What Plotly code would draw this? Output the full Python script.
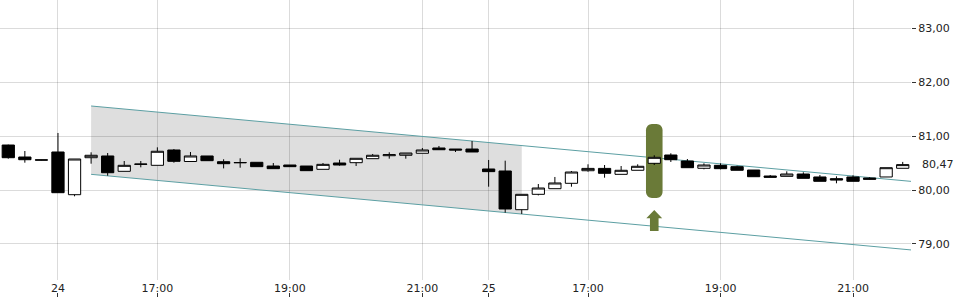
import plotly.graph_objects as go

# ---------------- data (15-minute candles) ----------------
opens = [80.833, 80.611, 80.558, 80.704, 79.913, 80.598, 80.630, 80.346, 80.474, 80.457,
         80.741, 80.528, 80.630, 80.524, 80.503, 80.513, 80.444, 80.463, 80.444, 80.383,
         80.500, 80.506, 80.580, 80.635, 80.643, 80.680, 80.778, 80.759, 80.759, 80.389,
         80.352, 79.635, 79.920, 80.024, 80.124, 80.357, 80.400, 80.290, 80.365, 80.494,
         80.648, 80.537, 80.402, 80.457, 80.432, 80.370, 80.259, 80.253, 80.296, 80.241,
         80.210, 80.241, 80.222, 80.241, 80.402]
highs = [80.840, 80.722, 80.560, 81.056, 80.574, 80.698, 80.685, 80.537, 80.537, 80.790,
         80.759, 80.704, 80.630, 80.569, 80.587, 80.513, 80.500, 80.463, 80.444, 80.500,
         80.561, 80.587, 80.667, 80.698, 80.685, 80.778, 80.815, 80.759, 80.907, 80.556,
         80.543, 79.920, 80.111, 80.241, 80.352, 80.476, 80.463, 80.444, 80.476, 80.643,
         80.680, 80.574, 80.494, 80.494, 80.450, 80.370, 80.278, 80.346, 80.328, 80.278,
         80.253, 80.272, 80.235, 80.413, 80.520]
lows = [80.580, 80.506, 80.550, 79.950, 79.883, 80.487, 80.265, 80.346, 80.420, 80.457,
        80.506, 80.528, 80.543, 80.400, 80.413, 80.432, 80.395, 80.432, 80.358, 80.383,
        80.450, 80.444, 80.580, 80.580, 80.580, 80.680, 80.746, 80.704, 80.704, 80.061,
        79.580, 79.556, 79.900, 80.024, 80.061, 80.339, 80.228, 80.290, 80.365, 80.463,
        80.519, 80.413, 80.383, 80.383, 80.365, 80.246, 80.235, 80.253, 80.216, 80.161,
        80.124, 80.161, 80.190, 80.241, 80.402]
closes = [80.598, 80.561, 80.554, 79.950, 80.574, 80.643, 80.320, 80.457, 80.480, 80.717,
          80.531, 80.630, 80.543, 80.487, 80.509, 80.432, 80.395, 80.432, 80.358, 80.475,
          80.463, 80.587, 80.643, 80.654, 80.685, 80.741, 80.746, 80.741, 80.704, 80.340,
          79.648, 79.920, 80.037, 80.130, 80.333, 80.400, 80.309, 80.365, 80.439, 80.605,
          80.561, 80.413, 80.463, 80.395, 80.365, 80.246, 80.235, 80.296, 80.216, 80.161,
          80.185, 80.161, 80.198, 80.413, 80.470]
candle_index = list(range(len(opens)))

tick_positions = [3, 9, 17, 25, 29, 35, 43, 51]
tick_labels = ["24", "17:00", "19:00", "21:00", "25", "17:00", "19:00", "21:00"]

# trend channel
channel_x = [5, 54.5]
channel_upper = [81.556, 80.160]
channel_lower = [80.290, 78.890]
shade_end_x = 31

# signal marker
signal_x = 39
signal_top = 81.222
signal_bottom = 79.852
arrow_tip = 79.630
arrow_neck = 79.476
arrow_base = 79.240

# ---------------- styles ----------------
TEAL = "#5c9fa3"
OLIVE = "#6a7a38"
GRID = "rgba(0,0,0,0.14)"
FONT = dict(family="DejaVu Sans", size=11, color="#222222")


def on_line(xs, ys, x):
    t = (x - xs[0]) / (xs[1] - xs[0])
    return ys[0] + t * (ys[1] - ys[0])


fig = go.Figure()

fig.add_trace(go.Candlestick(
    x=candle_index, open=opens, high=highs, low=lows, close=closes,
    increasing=dict(fillcolor="white", line=dict(color="black", width=1)),
    decreasing=dict(fillcolor="black", line=dict(color="black", width=1)),
    whiskerwidth=0, showlegend=False, hoverinfo="skip",
))
# helper trace so the tick-only axis is drawn
fig.add_trace(go.Scatter(x=[None], y=[None], xaxis="x2", yaxis="y",
                         showlegend=False, hoverinfo="skip"))

shapes = []
# shaded part of the channel
x0, x1 = channel_x[0], shade_end_x
shapes.append(dict(
    type="path", xref="x", yref="y", layer="below",
    path=(f"M {x0},{on_line(channel_x, channel_upper, x0)} "
          f"L {x1},{on_line(channel_x, channel_upper, x1)} "
          f"L {x1},{on_line(channel_x, channel_lower, x1)} "
          f"L {x0},{on_line(channel_x, channel_lower, x0)} Z"),
    fillcolor="#dedede", line=dict(width=0),
))
for ys in (channel_upper, channel_lower):
    shapes.append(dict(type="line", xref="x", yref="y", layer="between",
                       x0=channel_x[0], y0=ys[0], x1=channel_x[1], y1=ys[1],
                       line=dict(color=TEAL, width=1)))

# rounded pill behind the signal candle
px0, px1 = signal_x - 0.5, signal_x + 0.5
rx, ry = 0.36, 0.115
k = 0.5523
py0, py1 = signal_bottom, signal_top
pill = (f"M {px0},{py1 - ry} "
        f"C {px0},{py1 - ry + k * ry} {px0 + rx - k * rx},{py1} {px0 + rx},{py1} "
        f"L {px1 - rx},{py1} "
        f"C {px1 - rx + k * rx},{py1} {px1},{py1 - ry + k * ry} {px1},{py1 - ry} "
        f"L {px1},{py0 + ry} "
        f"C {px1},{py0 + ry - k * ry} {px1 - rx + k * rx},{py0} {px1 - rx},{py0} "
        f"L {px0 + rx},{py0} "
        f"C {px0 + rx - k * rx},{py0} {px0},{py0 + ry - k * ry} {px0},{py0 + ry} Z")
shapes.append(dict(type="path", xref="x", yref="y", layer="between", path=pill,
                   fillcolor=OLIVE, line=dict(width=0)))

# up arrow
hw, sw = 0.48, 0.26
arrow = (f"M {signal_x},{arrow_tip} L {signal_x + hw},{arrow_neck} "
         f"L {signal_x + sw},{arrow_neck} L {signal_x + sw},{arrow_base} "
         f"L {signal_x - sw},{arrow_base} L {signal_x - sw},{arrow_neck} "
         f"L {signal_x - hw},{arrow_neck} Z")
shapes.append(dict(type="path", xref="x", yref="y", layer="between", path=arrow,
                   fillcolor=OLIVE, line=dict(width=0)))

last_label = f"{closes[-1]:.2f}".replace(".", ",")

fig.update_layout(
    width=960, height=300,
    margin=dict(l=0, r=49, t=0, b=0, pad=0),
    paper_bgcolor="white", plot_bgcolor="white",
    separators=",.",
    font=FONT,
    showlegend=False,
    boxgap=0.26, boxgroupgap=0,
    shapes=shapes,
    xaxis=dict(
        range=[-0.5, 54.5], tickmode="array", tickvals=tick_positions, ticktext=tick_labels,
        showgrid=True, gridcolor=GRID, gridwidth=1, zeroline=False, showline=False,
        ticks="", tickfont=FONT, rangeslider=dict(visible=False), fixedrange=True,
        automargin=False,
    ),
    xaxis2=dict(
        range=[-0.5, 54.5], overlaying="x", anchor="free", position=0.01,
        tickmode="array", tickvals=tick_positions, showticklabels=False,
        ticks="inside", ticklen=4, tickcolor="#333333", tickwidth=1,
        showgrid=False, zeroline=False, showline=False, fixedrange=True,
    ),
    yaxis=dict(
        domain=[20 / 300, 1], range=[78.333, 83.519], side="right",
        tickmode="linear", tick0=79, dtick=1, tickformat=".2f",
        ticks="outside", ticklen=4, tickcolor="#333333", tickwidth=1,
        showgrid=True, gridcolor=GRID, gridwidth=1, zeroline=False, showline=False,
        tickfont=FONT, fixedrange=True, automargin=False,
    ),
    annotations=[dict(
        x=1, xref="paper", y=closes[-1], yref="y", text=last_label,
        showarrow=False, xanchor="left", yanchor="middle", xshift=9, font=FONT,
    )],
)

fig.write_html("out.html")
